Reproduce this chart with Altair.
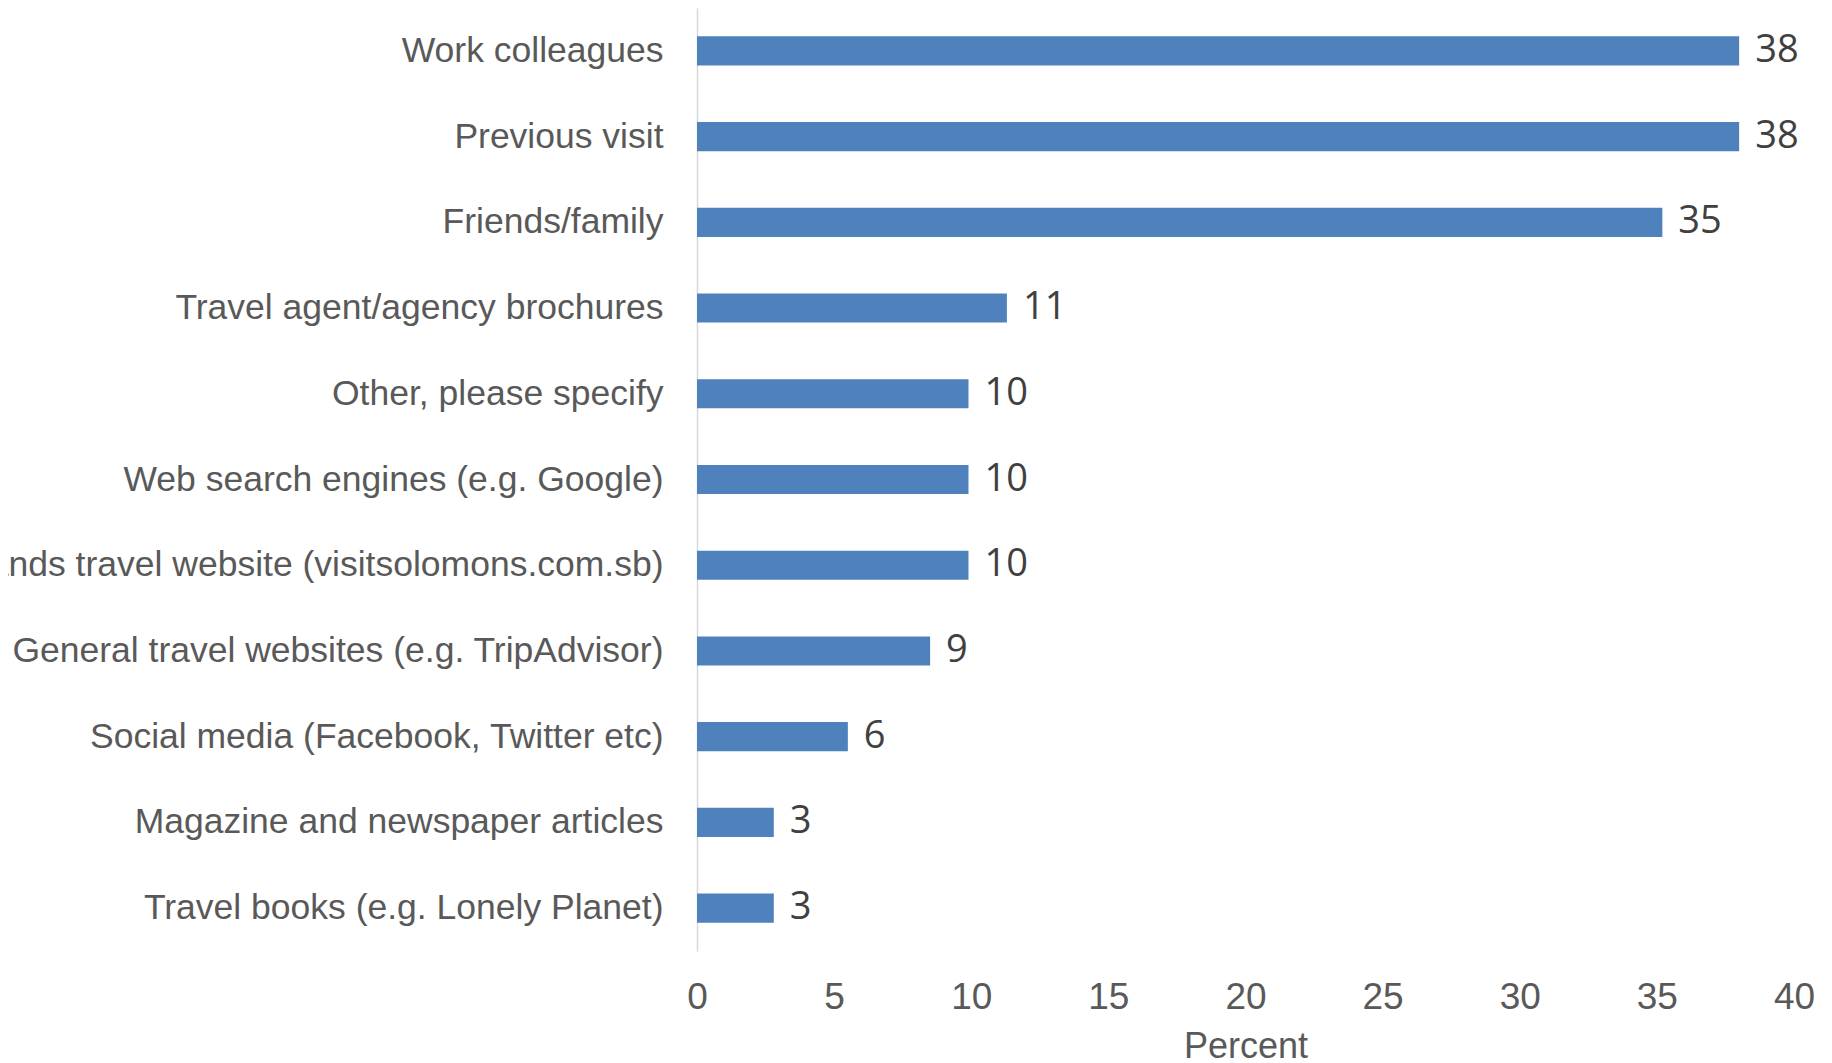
import altair as alt
import pandas as pd

categories = [
    "Work colleagues",
    "Previous visit",
    "Friends/family",
    "Travel agent/agency brochures",
    "Other, please specify",
    "Web search engines (e.g. Google)",
    "Solomon Islands travel website (visitsolomons.com.sb)",
    "General travel websites (e.g. TripAdvisor)",
    "Social media (Facebook, Twitter etc)",
    "Magazine and newspaper articles",
    "Travel books (e.g. Lonely Planet)",
]
values = [38.0, 38.0, 35.2, 11.3, 9.9, 9.9, 9.9, 8.5, 5.5, 2.8, 2.8]
labels = ["38", "38", "35", "11", "10", "10", "10", "9", "6", "3", "3"]
x_ticks = [0, 5, 10, 15, 20, 25, 30, 35, 40]

df = pd.DataFrame({"category": categories, "value": values, "label": labels})

LABEL_FONT = "Liberation Sans"
y_enc = alt.Y(
    "category:N",
    sort=categories,
    scale=alt.Scale(paddingInner=0.66, paddingOuter=0.33),
    axis=alt.Axis(
        title=None,
        ticks=False,
        domain=True,
        domainColor="#d9d9d9",
        domainWidth=1.5,
        grid=False,
        labelFont=LABEL_FONT,
        labelFontSize=35.5,
        labelColor="#595959",
        labelPadding=34,
        labelLimit=0,
    ),
)
x_enc = alt.X(
    "value:Q",
    scale=alt.Scale(domain=[0, 40], nice=False),
    axis=alt.Axis(
        values=x_ticks,
        title="Percent",
        titleFont=LABEL_FONT,
        titleFontSize=36,
        titleFontWeight="normal",
        titleColor="#595959",
        titlePadding=14,
        labelFont=LABEL_FONT,
        labelFontSize=37,
        labelColor="#595959",
        labelPadding=28,
        labelFlush=False,
        ticks=False,
        domain=False,
        grid=False,
    ),
)

bars = alt.Chart(df).mark_bar(color="#4f81bd").encode(x=x_enc, y=y_enc)
text = alt.Chart(df).mark_text(
    align="left", baseline="middle", dx=16, font="Open Sans", fontSize=38, color="#404040"
).encode(x="value:Q", y=alt.Y("category:N", sort=categories), text="label:N")

chart = (
    alt.layer(bars, text)
    .properties(
        width=1097,
        height=943,
        autosize=alt.AutoSizeParams(type="none"),
        padding={"left": 689, "top": 0, "right": 30, "bottom": 110},
    )
    .configure_view(stroke=None)
)

chart.save("out.html", embed_options={"renderer": "svg", "actions": False})
